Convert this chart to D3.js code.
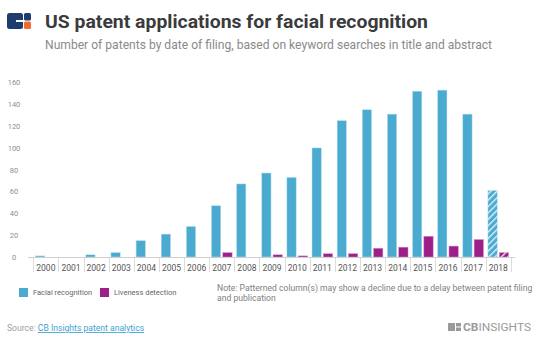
<!DOCTYPE html>
<html>
<head>
<meta charset="utf-8">
<script src="https://cdn.jsdelivr.net/npm/d3@7"></script>
<style>
  body { margin: 0; background: #fff; }
  svg { display: block; font-family: Roboto, "Open Sans", sans-serif; }
</style>
</head>
<body>
<svg id="chart" width="536" height="338"></svg>
<script>
// data
var years = ["2000","2001","2002","2003","2004","2005","2006","2007","2008","2009",
             "2010","2011","2012","2013","2014","2015","2016","2017","2018"];
var facial =   [1, 0, 2, 4, 15, 21, 28, 47, 67, 77, 73, 100, 125, 135, 131, 152, 153, 131, 61];
var liveness = [0, 0, 0, 0, 0, 0, 0, 4, 0, 2, 1, 3, 3, 8, 9, 19, 10, 16, 4];
var yTicks = [0, 20, 40, 60, 80, 100, 120, 140, 160];
var seriesNames = ["Facial recognition", "Liveness detection"];
var patterned = ["2018"];

var colors = ["#4baad0", "#9d1f88"];
var svg = d3.select("#chart");

// hatch patterns for the incomplete year
var defs = svg.append("defs");
colors.forEach(function (c, i) {
    var p = defs.append("pattern")
        .attr("id", "hatch" + i)
        .attr("patternUnits", "userSpaceOnUse")
        .attr("width", 4.5).attr("height", 4.5)
        .attr("patternTransform", "rotate(45)");
    p.append("rect").attr("width", 4.5).attr("height", 4.5).attr("fill", c);
    p.append("rect").attr("x", 0).attr("width", 1.4).attr("height", 4.5).attr("fill", "#fff").attr("opacity", 0.8);
});

// header: logo + title
var logo = svg.append("g").attr("transform", "translate(7,13)");
logo.append("rect").attr("x", 0).attr("y", 0).attr("width", 16).attr("height", 16).attr("rx", 2.5).attr("fill", "#1d3d6e");
logo.append("rect").attr("x", 17).attr("y", 0).attr("width", 7).attr("height", 7.5).attr("rx", 1.5).attr("fill", "#1d3d6e");
logo.append("rect").attr("x", 17).attr("y", 8.5).attr("width", 7).attr("height", 7.5).attr("rx", 1.5).attr("fill", "#f26a2e");
logo.append("rect").attr("x", 9).attr("y", 7).attr("width", 8).attr("height", 2).attr("fill", "#fff");

svg.append("text")
    .attr("x", 45).attr("y", 28)
    .attr("textLength", 383).attr("lengthAdjust", "spacingAndGlyphs")
    .style("font-size", "18px").style("font-weight", "bold").style("fill", "#3b3b3d")
    .text("US patent applications for facial recognition");

svg.append("text")
    .attr("x", 45).attr("y", 49)
    .attr("textLength", 447).attr("lengthAdjust", "spacingAndGlyphs")
    .style("font-size", "13px").style("fill", "#8a8a8a")
    .text("Number of patents by date of filing, based on keyword searches in title and abstract");

// scales
var xScale = d3.scaleBand().domain(years).range([33.3, 510.8]).padding(0);
var inner = d3.scaleBand().domain([0, 1]).range([0, xScale.bandwidth()])
    .paddingInner(0.18).paddingOuter(0.2);
var yScale = d3.scaleLinear().domain([0, 160]).range([257, 82.5]);

// y axis labels (no line)
var yAxis = d3.axisLeft(yScale).tickValues(yTicks).tickSize(0).tickPadding(0);
var yg = svg.append("g").attr("transform", "translate(14,0)").call(yAxis);
yg.select(".domain").remove();
yg.selectAll("text")
    .attr("text-anchor", "middle").attr("x", 0)
    .style("font-size", "7.5px").style("fill", "#8f8f8f").style("font-family", "Roboto, sans-serif");

// bars
var panel = svg.append("g");
[facial, liveness].forEach(function (vals, s) {
    panel.selectAll(".bar" + s)
        .data(vals)
        .enter().append("rect")
        .attr("class", "bar" + s)
        .attr("x", function (d, i) { return xScale(years[i]) + inner(s); })
        .attr("y", function (d) { return yScale(d); })
        .attr("width", inner.bandwidth())
        .attr("height", function (d) { return yScale(0) - yScale(d); })
        .attr("fill", function (d, i) {
            return patterned.indexOf(years[i]) >= 0 ? "url(#hatch" + s + ")" : colors[s];
        })
        .attr("stroke", s == 0 ? "#b5e0f0" : "#d28cc4")
        .attr("stroke-width", function (d) { return d > 0 ? 0.5 : 0; });
});

// x axis: baseline, separators, year labels
svg.append("line")
    .attr("x1", 28).attr("x2", 515)
    .attr("y1", yScale(0) + 0.5).attr("y2", yScale(0) + 0.5)
    .attr("stroke", "#cfcfcf").attr("stroke-width", 1);

var bounds = years.map(function (y) { return xScale(y); }).concat([xScale.range()[1]]);
svg.selectAll(".sep")
    .data(bounds)
    .enter().append("line")
    .attr("class", "sep")
    .attr("x1", function (d) { return Math.round(d) + 0.5; })
    .attr("x2", function (d) { return Math.round(d) + 0.5; })
    .attr("y1", yScale(0) + 1).attr("y2", 272)
    .attr("stroke", "#dcdcdc");

svg.selectAll(".year")
    .data(years)
    .enter().append("text")
    .attr("class", "year")
    .attr("x", function (d) { return xScale(d) + xScale.bandwidth() / 2; })
    .attr("y", 271)
    .attr("text-anchor", "middle")
    .style("font-size", "8.5px").style("fill", "#555")
    .text(function (d) { return d; });

// legend
var lx = [19, 100];
seriesNames.forEach(function (n, i) {
    svg.append("rect")
        .attr("x", lx[i]).attr("y", 288)
        .attr("width", 9).attr("height", 9)
        .attr("fill", colors[i]);
    svg.append("text")
        .attr("x", lx[i] + 14).attr("y", 295)
        .style("font-size", "7.5px").style("fill", "#666")
        .text(n);
});

// note
var note = svg.append("text").style("font-size", "8.6px").style("fill", "#808080");
note.append("tspan").attr("x", 217).attr("y", 291)
    .text("Note: Patterned column(s) may show a decline due to a delay between patent filing");
note.append("tspan").attr("x", 217).attr("y", 301)
    .text("and publication");

// source
var src = svg.append("text").attr("x", 7).attr("y", 331).style("font-size", "8.6px");
src.append("tspan").style("fill", "#a0a0a0").text("Source: ");
src.append("tspan").style("fill", "#3ea3d2").style("text-decoration", "underline")
    .text("CB Insights patent analytics");

// CB Insights wordmark
var wm = svg.append("g").attr("transform", "translate(448,323)");
wm.append("rect").attr("x", 0).attr("y", 0).attr("width", 7).attr("height", 8).attr("fill", "#9a9a9a");
wm.append("rect").attr("x", 8).attr("y", 0).attr("width", 5).attr("height", 3.5).attr("fill", "#9a9a9a");
wm.append("rect").attr("x", 8).attr("y", 4.5).attr("width", 5).attr("height", 3.5).attr("fill", "#9a9a9a");
var wt = wm.append("text").attr("x", 15).attr("y", 8.2)
    .attr("textLength", 68).attr("lengthAdjust", "spacingAndGlyphs")
    .style("font-size", "11.5px").style("fill", "#9a9a9a");
wt.append("tspan").style("font-weight", "bold").text("CB");
wt.append("tspan").text("INSIGHTS");
</script>
</body>
</html>
